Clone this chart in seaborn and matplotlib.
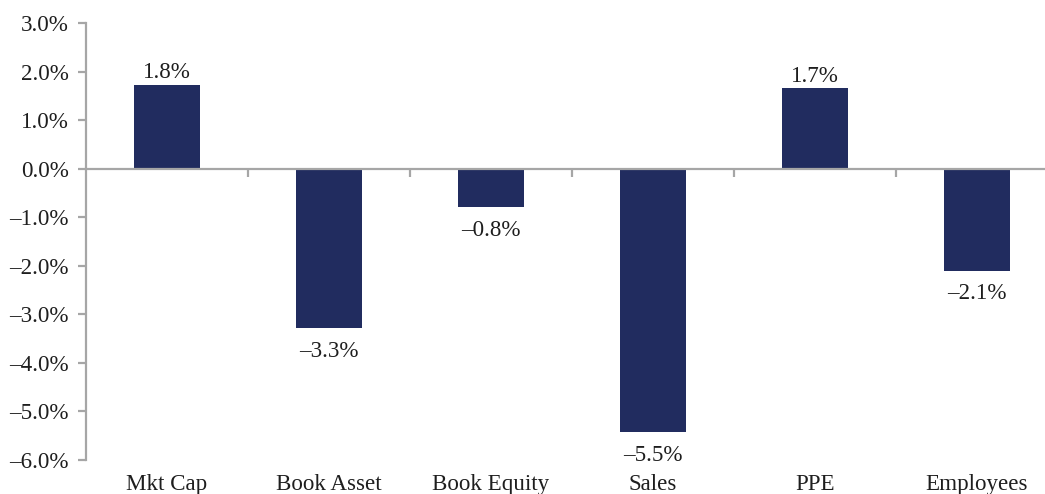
import matplotlib
matplotlib.use("Agg")
import matplotlib.pyplot as plt
import seaborn as sns
import pandas as pd
from matplotlib.transforms import blended_transform_factory

categories = ["Mkt Cap", "Book Asset", "Book Equity", "Sales", "PPE", "Employees"]
values = [1.73, -3.29, -0.79, -5.43, 1.66, -2.10]
value_labels = ["1.8%", "\u20133.3%", "\u20130.8%", "\u20135.5%", "1.7%", "\u20132.1%"]
yticks = [3, 2, 1, 0, -1, -2, -3, -4, -5, -6]

sns.set_theme(style="white")
plt.rcParams["font.family"] = ["Liberation Serif", "DejaVu Serif"]

bar_color = "#212c5f"
axis_color = "#a6a6a6"
text_color = "#1e1e1e"
fs = 16.6

fig = plt.figure(figsize=(10.45, 4.94), dpi=100)
ax = fig.add_axes([86 / 1045, 1 - 460 / 494, 1 - 86 / 1045, (460 - 23) / 494])

df = pd.DataFrame({"cat": categories, "val": values})
sns.barplot(data=df, x="cat", y="val", color=bar_color, width=0.41, ax=ax,
            saturation=1, edgecolor="none")

ax.set_ylim(-6, 3)
ax.set_xlim(-0.5, 5.42)
ax.set_xlabel("")
ax.set_ylabel("")

for s in ["top", "right"]:
    ax.spines[s].set_visible(False)
ax.spines["left"].set_color(axis_color)
ax.spines["left"].set_linewidth(1.6)
ax.spines["bottom"].set_position(("data", 0))
ax.spines["bottom"].set_color(axis_color)
ax.spines["bottom"].set_linewidth(1.6)
ax.spines["bottom"].set_zorder(5)

ax.set_yticks(yticks)
ax.set_yticklabels([(f"{v:.1f}%" if v >= 0 else "\u2013" + f"{abs(v):.1f}%") for v in yticks],
                   fontsize=fs, color=text_color)
ax.tick_params(axis="y", direction="out", length=6, width=1.6, color=axis_color, pad=6.5, left=True)

ax.set_xticks([i + 0.5 for i in range(len(categories) - 1)])
ax.set_xticklabels([])
ax.tick_params(axis="x", direction="out", length=6, width=1.6, color=axis_color, bottom=True)

trans = blended_transform_factory(ax.transData, ax.transAxes)
for i, c in enumerate(categories):
    ax.text(i, -0.033, c, transform=trans, ha="center", va="top", fontsize=fs, color=text_color)

for i, (v, lab) in enumerate(zip(values, value_labels)):
    if v >= 0:
        ax.annotate(lab, (i, v), xytext=(0, 1), textcoords="offset points",
                    ha="center", va="bottom", fontsize=fs, color=text_color)
    else:
        ax.annotate(lab, (i, v), xytext=(0, -9), textcoords="offset points",
                    ha="center", va="top", fontsize=fs, color=text_color)

fig.savefig("out.png", dpi=100)
